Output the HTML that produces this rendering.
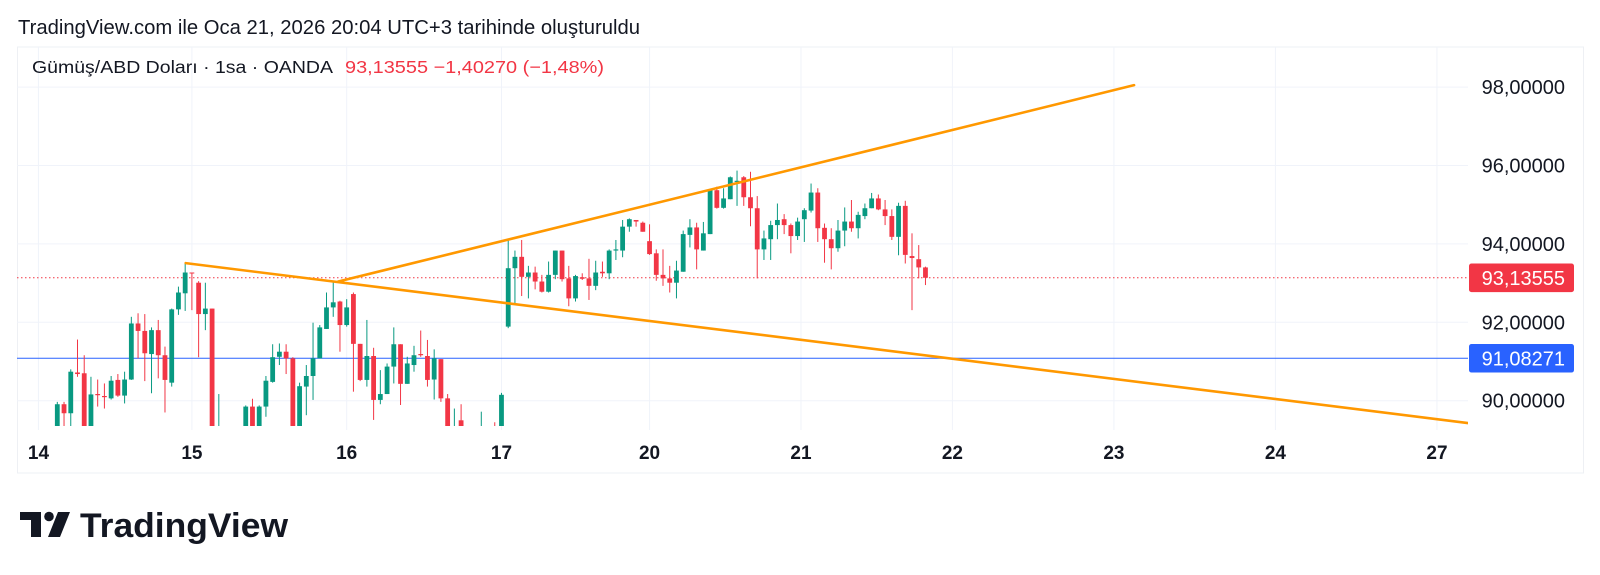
<!DOCTYPE html>
<html><head><meta charset="utf-8"><style>
html,body{margin:0;padding:0;background:#fff;width:1600px;height:575px;overflow:hidden}
svg{display:block;font-family:"Liberation Sans",sans-serif}
</style></head><body>
<svg id="chart" width="1600" height="575" viewBox="0 0 1600 575">
<text x="18" y="34" font-size="20" fill="#131722" textLength="622" lengthAdjust="spacingAndGlyphs">TradingView.com ile Oca 21, 2026 20:04 UTC+3 tarihinde oluşturuldu</text>
<rect x="17.5" y="47" width="1566" height="426" fill="none" stroke="#eef0f4" stroke-width="1"/>
<g id="grid"></g>
<g id="plot" clip-path="url(#clip)"></g>
<defs><clipPath id="clip"><rect x="17" y="47" width="1451" height="379"/></clipPath></defs>
<g id="axes"></g>
<text x="32" y="73" font-size="17.5" fill="#131722" textLength="301" lengthAdjust="spacingAndGlyphs">Gümüş/ABD Doları · 1sa · OANDA</text>
<text x="345" y="73" font-size="17.5" fill="#f23645" textLength="259" lengthAdjust="spacingAndGlyphs">93,13555  −1,40270 (−1,48%)</text>
<g>
<path d="M20 512 H41 V537 H31 V520 H20 Z" fill="#131722"/>
<circle cx="49" cy="516.5" r="4.8" fill="#131722"/>
<path d="M58 512 H70 L60 537 H48 Z" fill="#131722"/>
<text x="80" y="537" font-size="34" font-weight="bold" fill="#131722" textLength="208" lengthAdjust="spacingAndGlyphs">TradingView</text>
</g>
</svg>
<script>
const opens=[89.2,89.91,89.68,90.72,90.70,89.2,90.17,90.12,90.06,90.53,90.13,90.54,91.97,91.78,91.19,91.80,91.16,90.46,92.33,92.74,93.27,93.01,92.21,92.35,89.2,89.0,89.05,89.0,89.2,89.85,89.2,89.85,90.48,91.12,91.25,91.08,89.2,90.36,90.63,91.08,91.83,92.38,92.53,91.93,92.72,91.45,90.53,91.14,90.02,90.17,90.87,91.44,90.43,90.91,91.19,91.14,90.54,91.06,90.06,89.2,89.5,89.0,89.05,89.2,89.0,89.3,89.2,
91.89,93.38,93.67,93.16,93.27,93.04,92.78,93.21,93.83,93.12,92.61,93.15,93.12,92.93,93.29,93.25,93.83,93.83,94.44,94.61,94.54,94.07,93.76,93.21,93.12,93.01,93.29,94.23,94.42,93.83,94.25,95.37,94.92,95.14,95.58,95.70,95.19,94.91,93.86,94.12,94.48,94.63,94.48,94.20,94.63,94.85,95.31,94.41,94.12,93.89,94.34,94.57,94.40,94.71,94.91,95.16,94.88,94.71,94.18,94.97,93.69,93.61,93.40];
const highs=[89.97,89.97,90.80,91.56,91.16,90.61,90.54,90.44,90.63,90.68,90.74,92.14,92.23,92.21,91.87,92.06,91.38,92.35,92.91,93.52,93.27,93.05,93.01,92.35,90.17,89.1,89.1,89.1,89.88,90.05,89.88,90.63,91.44,91.46,91.44,91.11,90.46,90.91,91.99,91.93,92.76,93.02,92.55,92.59,92.76,91.45,92.06,91.35,90.78,90.95,91.87,91.44,91.12,91.40,91.79,91.55,91.31,91.06,90.17,89.80,89.91,89.1,89.1,89.72,89.1,89.45,90.2,
94.10,93.83,94.10,93.44,93.42,93.21,93.55,93.83,93.83,93.44,93.21,93.25,93.62,93.57,93.55,93.86,94.10,94.61,94.65,94.61,94.57,94.50,93.86,93.86,93.44,93.57,94.34,94.63,94.54,94.56,95.39,95.46,95.42,95.72,95.87,95.73,95.84,95.22,94.34,94.59,95.03,94.76,94.52,94.67,94.91,95.54,95.42,94.52,94.40,94.61,94.93,95.12,94.82,95.03,95.30,95.26,95.12,94.88,95.05,95.10,94.27,93.97,93.42];
const lows=[89.1,89.1,89.1,90.61,89.1,89.1,89.85,89.80,90.03,90.10,89.93,90.53,91.08,90.50,90.19,90.57,89.70,90.36,92.19,92.29,92.31,91.11,91.80,89.1,89.1,88.9,88.9,88.9,89.1,89.1,89.1,89.59,90.46,90.91,90.68,89.1,89.1,89.63,90.02,91.08,91.83,92.14,91.25,91.89,90.23,90.50,90.36,89.51,89.91,90.17,90.44,89.89,90.43,90.74,91.12,90.36,90.03,89.97,89.1,89.1,89.1,88.9,88.9,89.1,88.9,89.1,89.1,
91.85,92.48,92.67,92.61,92.84,92.76,92.76,93.10,93.04,92.41,92.53,93.08,92.57,92.82,93.16,93.10,93.59,93.66,94.31,94.44,94.31,93.72,93.06,92.93,92.76,92.61,93.29,93.91,93.35,93.83,94.25,94.90,94.90,95.14,94.97,94.97,94.45,93.12,93.59,93.59,94.12,94.25,93.76,94.10,94.05,94.80,94.05,93.52,93.35,93.80,93.94,94.31,94.14,94.63,94.91,94.86,94.48,94.10,93.71,93.50,92.31,93.12,92.95];
const closes=[89.91,89.68,90.74,90.68,89.2,90.16,90.14,90.09,90.51,90.13,90.54,91.97,91.78,91.21,91.80,91.16,90.53,92.33,92.76,93.27,93.25,92.21,92.35,89.2,89.25,89.05,89.0,89.05,89.85,89.2,89.85,90.51,91.11,91.25,91.08,89.2,90.37,90.63,91.08,91.87,92.38,92.51,91.93,92.38,91.45,90.53,91.14,90.02,90.17,90.87,91.44,90.43,90.95,91.16,91.16,90.53,91.08,90.06,89.2,89.3,89.2,89.05,89.0,89.3,89.05,89.2,90.15,
93.38,93.67,93.16,93.27,93.04,92.78,93.21,93.83,93.10,92.61,93.18,93.11,92.93,93.27,93.25,93.83,93.86,94.44,94.63,94.57,94.31,93.74,93.21,93.12,93.01,93.32,94.25,94.42,93.86,94.27,95.39,94.92,95.16,95.70,95.61,95.19,94.91,93.86,94.14,94.48,94.61,94.48,94.20,94.57,94.86,95.31,94.40,94.12,93.89,94.34,94.57,94.40,94.74,94.91,95.16,94.88,94.71,94.18,94.97,93.72,93.64,93.40,93.136];
const priceTicks=[90,92,94,96,98];
const priceTickLabels=["90,00000","92,00000","94,00000","96,00000","98,00000"];
const dateLabels=["14","15","16","17","20","21","22","23","24","27"];
const dateBars=[-1.8,21,44,67,89,111.5,134,158,182,206];
const lastPrice=93.13555, lastLabel="93,13555";
const alertPrice=91.08271, alertLabel="91,08271";
const upperLine=[[42.75,93.04],[161,98.05]];
const lowerLine=[[20.08,93.51],[210.6,89.43]];

const NS="http://www.w3.org/2000/svg";
const xB=i=>57.3+(i-1)*6.73;
const yP=p=>400.7-(p-90)*39.2;
function mk(tag,attrs,parent){const e=document.createElementNS(NS,tag);for(const k in attrs)e.setAttribute(k,attrs[k]);parent.appendChild(e);return e;}
const grid=document.getElementById('grid'),plot=document.getElementById('plot'),axes=document.getElementById('axes');

priceTicks.forEach((p,k)=>{
  const l=mk('line',{x1:17,x2:1468,y1:yP(p),y2:yP(p),stroke:'#f0f3fa','stroke-width':1},grid);
  
  
  const t=mk('text',{x:1565,y:yP(p)+7,'text-anchor':'end','font-size':20,fill:'#131722'},axes);
  t.textContent=priceTickLabels[k];
  
  
});
dateBars.forEach((b,k)=>{
  const l=mk('line',{x1:xB(b),x2:xB(b),y1:47,y2:430,stroke:'#f0f3fa','stroke-width':1},grid);
  
  
  const t=mk('text',{x:xB(b),y:459,'text-anchor':'middle','font-size':19,'font-weight':'bold',fill:'#131722'},axes);
  t.textContent=dateLabels[k];
  
  
});

// horizontal alert line & last price line
const hl=mk('line',{x1:17,x2:1468,y1:yP(alertPrice),y2:yP(alertPrice),stroke:'#2962ff','stroke-width':1},plot);


const lp=mk('line',{x1:17,x2:1468,y1:yP(lastPrice),y2:yP(lastPrice),stroke:'#f23645','stroke-width':1,'stroke-dasharray':'1.5 2.5'},plot);



for(let i=0;i<opens.length;i++){
  const up=closes[i]>=opens[i];
  const col=up?'#089981':'#f23645';
  const x=xB(i+1);
  const g=mk('g',{},plot);
  
  
  mk('line',{x1:x,x2:x,y1:yP(highs[i]),y2:yP(lows[i]),stroke:col,'stroke-width':1},g);
  const top=yP(Math.max(opens[i],closes[i])),bot=yP(Math.min(opens[i],closes[i]));
  mk('rect',{x:x-2.4,y:top,width:4.8,height:Math.max(1,bot-top),fill:col},g);
}

[[upperLine,'upper-trendline'],[lowerLine,'lower-trendline']].forEach(([ln,nm])=>{
  const l=mk('line',{x1:xB(ln[0][0]),y1:yP(ln[0][1]),x2:xB(ln[1][0]),y2:yP(ln[1][1]),stroke:'#ff9800','stroke-width':2.6,'stroke-linecap':'round'},plot);
  
  
});

[[lastPrice,lastLabel,'#f23645','last-price-label'],[alertPrice,alertLabel,'#2962ff','alert-price-label']].forEach(([p,lab,c,nm])=>{
  const g=mk('g',{},axes);
  
  
  mk('rect',{x:1469,y:yP(p)-14.3,width:105,height:28.6,rx:2.5,fill:c},g);
  const t=mk('text',{x:1565,y:yP(p)+7,'text-anchor':'end','font-size':20,fill:'#fff'},g);
  t.textContent=lab;
});
</script>
</body></html>
